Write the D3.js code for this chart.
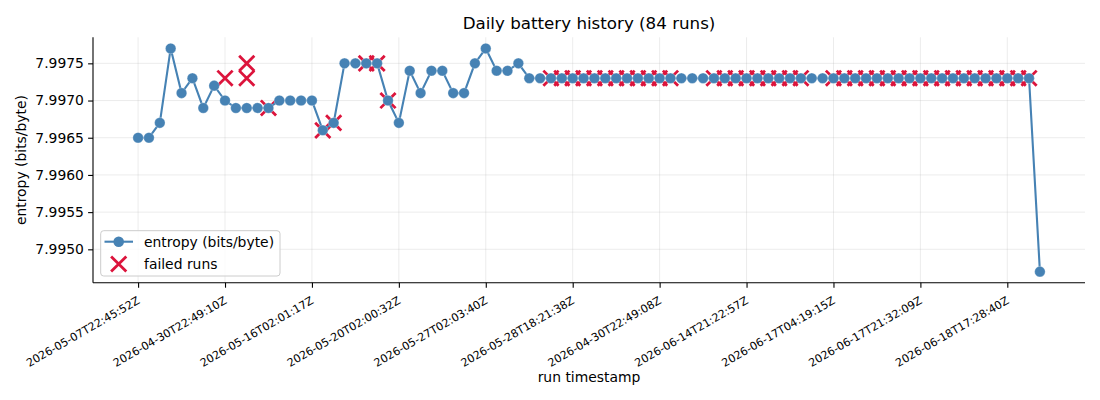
<!DOCTYPE html>
<html>
<head>
<meta charset="utf-8">
<script src="https://cdn.jsdelivr.net/npm/d3@7"></script>
<style>
  html, body { margin: 0; padding: 0; background: #fff; }
  svg { display: block; font-family: "DejaVu Sans", sans-serif; }
</style>
</head>
<body>
<svg id="chart" width="1100" height="400"></svg>
<script>
// ---- data ----
const entropy = [
  7.9965, 7.9965, 7.9967, 7.9977, 7.9971, 7.9973, 7.9969, 7.9972,
  7.9970, 7.9969, 7.9969, 7.9969, 7.9969, 7.9970, 7.9970, 7.9970,
  7.9970, 7.9966, 7.9967, 7.9975, 7.9975, 7.9975, 7.9975, 7.9970,
  7.9967, 7.9974, 7.9971, 7.9974, 7.9974, 7.9971, 7.9971, 7.9975,
  7.9977, 7.9974, 7.9974, 7.9975, 7.9973, 7.9973, 7.9973, 7.9973,
  7.9973, 7.9973, 7.9973, 7.9973, 7.9973, 7.9973, 7.9973, 7.9973,
  7.9973, 7.9973, 7.9973, 7.9973, 7.9973, 7.9973, 7.9973, 7.9973,
  7.9973, 7.9973, 7.9973, 7.9973, 7.9973, 7.9973, 7.9973, 7.9973,
  7.9973, 7.9973, 7.9973, 7.9973, 7.9973, 7.9973, 7.9973, 7.9973,
  7.9973, 7.9973, 7.9973, 7.9973, 7.9973, 7.9973, 7.9973, 7.9973,
  7.9973, 7.9973, 7.9973, 7.9947
];
const failedRun = [
  8, 10, 10, 12, 17, 18, 21, 22, 23,
  38, 39, 40, 41, 42, 43, 44, 45, 46, 47, 48, 49,
  53, 54, 55, 56, 57, 58, 59, 60, 61,
  64, 65, 66, 67, 68, 69, 70, 71, 72, 73, 74, 75, 76, 77, 78, 79, 80, 81, 82
];
const failedEntropy = [
  7.9973, 7.9975, 7.9973, 7.9969, 7.9966, 7.9967, 7.9975, 7.9975, 7.9970,
  7.9973, 7.9973, 7.9973, 7.9973, 7.9973, 7.9973, 7.9973, 7.9973, 7.9973, 7.9973, 7.9973, 7.9973,
  7.9973, 7.9973, 7.9973, 7.9973, 7.9973, 7.9973, 7.9973, 7.9973, 7.9973,
  7.9973, 7.9973, 7.9973, 7.9973, 7.9973, 7.9973, 7.9973, 7.9973, 7.9973, 7.9973, 7.9973, 7.9973, 7.9973, 7.9973, 7.9973, 7.9973, 7.9973, 7.9973, 7.9973
];
const tickRuns = [0, 8, 16, 24, 32, 40, 48, 56, 64, 72, 80];
const tickLabels = [
  "2026-05-07T22:45:52Z", "2026-04-30T22:49:10Z", "2026-05-16T02:01:17Z",
  "2026-05-20T02:00:32Z", "2026-05-27T02:03:40Z", "2026-05-28T18:21:38Z",
  "2026-04-30T22:49:08Z", "2026-06-14T21:22:57Z", "2026-06-17T04:19:15Z",
  "2026-06-17T21:32:09Z", "2026-06-18T17:28:40Z"
];
const yTicks = [7.9950, 7.9955, 7.9960, 7.9965, 7.9970, 7.9975];

// ---- layout ----
const L = 93, R = 1085, T = 37.3, B = 282.8;
const blue = "#4682b4", red = "#dc143c";
const svg = d3.select("#chart");

const n = entropy.length;
const padX = (n - 1) * 0.05;
const x = d3.scaleLinear().domain([-padX, n - 1 + padX]).range([L, R]);
const yMin = d3.min(entropy.concat(failedEntropy)), yMax = d3.max(entropy.concat(failedEntropy));
const padY = (yMax - yMin) * 0.05;
const y = d3.scaleLinear().domain([yMin - padY, yMax + padY]).range([B, T]);

// grid
const grid = svg.append("g");
grid.selectAll("line.gx").data(tickRuns).join("line")
  .attr("x1", d => x(d)).attr("x2", d => x(d)).attr("y1", T).attr("y2", B)
  .attr("stroke", "#b0b0b0").attr("stroke-opacity", 0.3).attr("stroke-width", 0.8);
grid.selectAll("line.gy").data(yTicks).join("line")
  .attr("x1", L).attr("x2", R).attr("y1", d => y(d)).attr("y2", d => y(d))
  .attr("stroke", "#b0b0b0").attr("stroke-opacity", 0.3).attr("stroke-width", 0.8);

// cross path generator
function crossPath(s) {
  return `M${-s},${-s}L${s},${s}M${-s},${s}L${s},${-s}`;
}

// failed crosses (below the line)
svg.append("g").selectAll("path").data(failedRun.map((r, i) => [r, failedEntropy[i]])).join("path")
  .attr("transform", d => `translate(${x(d[0])},${y(d[1])})`)
  .attr("d", crossPath(7.6))
  .attr("stroke", red).attr("stroke-width", 2.8).attr("fill", "none");

// line
const line = d3.line().x((d, i) => x(i)).y(d => y(d));
svg.append("path").datum(entropy)
  .attr("d", line).attr("fill", "none").attr("stroke", blue).attr("stroke-width", 2.1);

// points
svg.append("g").selectAll("circle").data(entropy).join("circle")
  .attr("cx", (d, i) => x(i)).attr("cy", d => y(d)).attr("r", 5.3)
  .attr("fill", blue).attr("stroke", "#ffffff").attr("stroke-width", 0.5).attr("stroke-opacity", 0.6);

// axes
const yAxis = d3.axisLeft(y).tickValues(yTicks).tickFormat(d3.format(".4f")).tickSize(4.9).tickPadding(4.2);
const gy = svg.append("g").attr("transform", `translate(${L},0)`).call(yAxis);
gy.select(".domain").attr("stroke", "#000").attr("stroke-width", 1.1).attr("d", `M0,${T}V${B}`);
gy.selectAll(".tick line").attr("stroke", "#000").attr("stroke-width", 1.1);
gy.selectAll(".tick text").attr("font-size", 13.9).attr("fill", "#000")
  .attr("font-family", "DejaVu Sans");

const xAxis = d3.axisBottom(x).tickValues(tickRuns).tickFormat((d, i) => tickLabels[i]).tickSize(4.9);
const gx = svg.append("g").attr("transform", `translate(0,${B})`).call(xAxis);
gx.select(".domain").attr("stroke", "#000").attr("stroke-width", 1.1).attr("d", `M${L},0H${R}`);
gx.selectAll(".tick line").attr("stroke", "#000").attr("stroke-width", 1.1);
gx.selectAll(".tick text")
  .attr("font-size", 11.1).attr("fill", "#000").attr("font-family", "DejaVu Sans")
  .attr("text-anchor", "end").attr("dy", null).attr("y", 0)
  .attr("transform", "translate(2,20) rotate(-30)");

// title and labels
svg.append("text").attr("x", (L + R) / 2).attr("y", 29).attr("text-anchor", "middle")
  .attr("font-size", 16.7).attr("fill", "#000").text("Daily battery history (84 runs)");
svg.append("text").attr("x", (L + R) / 2).attr("y", 382).attr("text-anchor", "middle")
  .attr("font-size", 13.9).attr("fill", "#000").text("run timestamp");
svg.append("text").attr("transform", `translate(26,${(T + B) / 2}) rotate(-90)`)
  .attr("text-anchor", "middle").attr("font-size", 13.9).attr("fill", "#000")
  .text("entropy (bits/byte)");

// legend
const lg = svg.append("g");
lg.append("rect").attr("x", 100.7).attr("y", 230.7).attr("width", 179.3).attr("height", 45.3)
  .attr("rx", 3).attr("fill", "#fff").attr("fill-opacity", 0.8)
  .attr("stroke", "#cccccc").attr("stroke-width", 1);
lg.append("line").attr("x1", 104.5).attr("x2", 133).attr("y1", 241.7).attr("y2", 241.7)
  .attr("stroke", blue).attr("stroke-width", 2.1);
lg.append("circle").attr("cx", 118.7).attr("cy", 241.7).attr("r", 5.3).attr("fill", blue);
lg.append("path").attr("transform", "translate(118.7,264)").attr("d", crossPath(7.6))
  .attr("stroke", red).attr("stroke-width", 2.8).attr("fill", "none");
lg.append("text").attr("x", 144).attr("y", 246.8).attr("font-size", 13.9).attr("fill", "#000")
  .text("entropy (bits/byte)");
lg.append("text").attr("x", 144).attr("y", 269).attr("font-size", 13.9).attr("fill", "#000")
  .text("failed runs");
</script>
</body>
</html>
